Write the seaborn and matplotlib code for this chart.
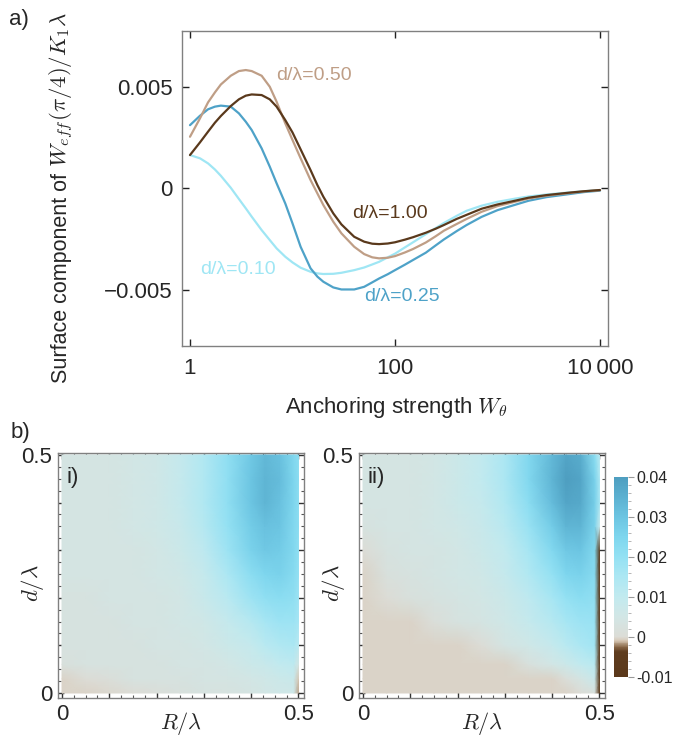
import numpy as np
import pandas as pd
import matplotlib
matplotlib.use("Agg")
import matplotlib.pyplot as plt
import seaborn as sns
from matplotlib.colors import LinearSegmentedColormap, Normalize
from matplotlib.ticker import FixedLocator, FixedFormatter, MultipleLocator

# ---------------- data: panel a ----------------
W = [1, 1.25, 1.5, 1.75, 2, 2.5, 3, 3.5, 4, 5, 6, 7, 8.5, 10, 12, 15, 17.5, 20, 25, 30,
     40, 50, 60, 70, 85, 100, 125, 150, 200, 250, 300, 400, 500, 700, 1000, 1500, 2000, 3000,
     5000, 7000, 10000]
w_d010 = [0.00164, 0.00148, 0.00123, 0.00093, 0.00062, 0.00003, -0.00052, -0.00098, -0.00139, -0.00205,
          -0.00254, -0.00295, -0.00336, -0.00364, -0.00390, -0.00410, -0.00418, -0.00421, -0.00420, -0.00415,
          -0.00402, -0.00389, -0.00374, -0.00361, -0.00339, -0.00321, -0.00290, -0.00265, -0.00225, -0.00195,
          -0.00170, -0.00135, -0.00110, -0.00085, -0.00066, -0.00050, -0.00040, -0.00030, -0.00020, -0.00014,
          -0.00008]
w_d025 = [0.00311, 0.00357, 0.00389, 0.00402, 0.00407, 0.00402, 0.00369, 0.00328, 0.00287, 0.00197,
          0.00107, 0.00025, -0.00074, -0.00172, -0.00287, -0.00393, -0.00434, -0.00459, -0.00487, -0.00497,
          -0.00497, -0.00484, -0.00462, -0.00443, -0.00422, -0.00402, -0.00375, -0.00352, -0.00316, -0.00280,
          -0.00251, -0.00210, -0.00180, -0.00140, -0.00107, -0.00080, -0.00061, -0.00043, -0.00028, -0.00018,
          -0.00011]
w_d050 = [0.00254, 0.00344, 0.00423, 0.00472, 0.00511, 0.00554, 0.00577, 0.00582, 0.00577, 0.00554,
          0.00500, 0.00426, 0.00320, 0.00238, 0.00148, 0.00041, -0.00025, -0.00082, -0.00164, -0.00221,
          -0.00287, -0.00323, -0.00339, -0.00344, -0.00341, -0.00333, -0.00315, -0.00298, -0.00266, -0.00235,
          -0.00208, -0.00175, -0.00150, -0.00115, -0.00087, -0.00065, -0.00050, -0.00036, -0.00023, -0.00015,
          -0.00009]
w_d100 = [0.00164, 0.00226, 0.00279, 0.00323, 0.00356, 0.00405, 0.00438, 0.00456, 0.00462, 0.00459,
          0.00438, 0.00402, 0.00336, 0.00275, 0.00192, 0.00090, 0.00016, -0.00041, -0.00123, -0.00177,
          -0.00238, -0.00262, -0.00272, -0.00274, -0.00271, -0.00265, -0.00252, -0.00240, -0.00218, -0.00198,
          -0.00180, -0.00150, -0.00130, -0.00100, -0.00079, -0.00060, -0.00046, -0.00033, -0.00021, -0.00014,
          -0.00008]
curve_labels = ["d/λ=0.10", "d/λ=0.25", "d/λ=0.50", "d/λ=1.00"]

# ---------------- data: panel b ----------------
R_grid = [0, 0.05, 0.1, 0.15, 0.2, 0.25, 0.3, 0.35, 0.4, 0.43, 0.46, 0.49, 0.5]
d_grid = [0, 0.03, 0.06, 0.1, 0.15, 0.2, 0.25, 0.3, 0.35, 0.4, 0.45, 0.5]
field_i = [
    [-0.0003, -0.0003, -0.0002, 0.000, 0.001, 0.002, 0.003, 0.003, 0.004, 0.005, 0.006, 0.006, -0.0015],
    [-0.0003, 0.000, 0.001, 0.003, 0.003, 0.003, 0.004, 0.004, 0.005, 0.006, 0.007, 0.008, -0.001],
    [0.002, 0.003, 0.003, 0.003, 0.003, 0.004, 0.004, 0.005, 0.007, 0.008, 0.010, 0.011, 0.004],
    [0.003, 0.003, 0.003, 0.003, 0.004, 0.004, 0.005, 0.007, 0.009, 0.012, 0.014, 0.015, 0.012],
    [0.003, 0.003, 0.003, 0.004, 0.004, 0.005, 0.006, 0.009, 0.013, 0.016, 0.018, 0.018, 0.016],
    [0.003, 0.003, 0.004, 0.004, 0.004, 0.005, 0.008, 0.012, 0.018, 0.021, 0.022, 0.021, 0.018],
    [0.004, 0.004, 0.004, 0.004, 0.005, 0.006, 0.009, 0.015, 0.022, 0.025, 0.026, 0.023, 0.020],
    [0.004, 0.004, 0.004, 0.004, 0.005, 0.007, 0.011, 0.018, 0.026, 0.029, 0.028, 0.024, 0.021],
    [0.004, 0.004, 0.004, 0.005, 0.006, 0.008, 0.013, 0.020, 0.028, 0.031, 0.030, 0.024, 0.022],
    [0.004, 0.004, 0.004, 0.005, 0.006, 0.009, 0.014, 0.021, 0.030, 0.034, 0.031, 0.025, 0.022],
    [0.004, 0.004, 0.004, 0.005, 0.006, 0.009, 0.014, 0.021, 0.030, 0.034, 0.032, 0.025, 0.022],
    [0.004, 0.004, 0.004, 0.005, 0.006, 0.009, 0.014, 0.021, 0.029, 0.033, 0.031, 0.024, 0.022],
]
T = -0.0003
field_ii = [
    [T, T, T, T, T, T, T, T, T, T, 0.000, 0.002, -0.010],
    [T, T, T, T, T, T, T, T, T, 0.001, 0.004, 0.008, -0.010],
    [T, T, T, T, T, T, T, 0.002, 0.005, 0.007, 0.010, 0.012, -0.010],
    [T, T, T, T, T, 0.000, 0.004, 0.006, 0.009, 0.012, 0.015, 0.017, -0.010],
    [T, T, T, 0.001, 0.003, 0.004, 0.006, 0.009, 0.013, 0.016, 0.018, 0.019, -0.010],
    [T, 0.000, 0.002, 0.003, 0.004, 0.005, 0.007, 0.011, 0.016, 0.020, 0.022, 0.021, -0.010],
    [T, 0.002, 0.003, 0.004, 0.005, 0.006, 0.009, 0.014, 0.020, 0.025, 0.026, 0.023, -0.010],
    [0.000, 0.003, 0.004, 0.004, 0.005, 0.007, 0.010, 0.016, 0.024, 0.029, 0.030, 0.024, -0.010],
    [0.003, 0.004, 0.004, 0.005, 0.006, 0.008, 0.012, 0.019, 0.028, 0.034, 0.034, 0.026, 0.008],
    [0.004, 0.004, 0.004, 0.005, 0.007, 0.009, 0.014, 0.022, 0.032, 0.038, 0.037, 0.027, 0.016],
    [0.004, 0.004, 0.004, 0.005, 0.007, 0.010, 0.015, 0.024, 0.034, 0.040, 0.038, 0.026, 0.015],
    [0.004, 0.004, 0.004, 0.005, 0.007, 0.010, 0.015, 0.024, 0.033, 0.038, 0.036, 0.022, 0.012],
]
cbar_ticks = [-0.01, 0, 0.01, 0.02, 0.03, 0.04]
cbar_ticklabels = ["-0.01", "0", "0.01", "0.02", "0.03", "0.04"]

# ---------------- style ----------------
sns.set_theme(style="ticks")
plt.rcParams["font.family"] = ["Liberation Sans", "DejaVu Sans"]
plt.rcParams["mathtext.fontset"] = "cm"
plt.rcParams["axes.unicode_minus"] = True

FS = 16
frame_col = "#808080"
cols = {"d/λ=0.10": "#9fe6f4", "d/λ=0.25": "#4ea2c8", "d/λ=0.50": "#bf9e86", "d/λ=1.00": "#5a391c"}

fig = plt.figure(figsize=(6.82, 7.36), dpi=100)

def frac(l, t, r, b):
    return [l / 682, 1 - b / 736, (r - l) / 682, (b - t) / 736]

# ---------------- panel a ----------------
ax = fig.add_axes(frac(182, 31, 608, 346))
df = pd.DataFrame({
    "W": W * 4,
    "val": w_d010 + w_d025 + w_d050 + w_d100,
    "curve": sum([[c] * len(W) for c in curve_labels], []),
})
sns.lineplot(data=df, x="W", y="val", hue="curve", palette=cols, linewidth=1.6,
             legend=False, ax=ax, sort=False)
ax.set_xscale("log")
ax.set_xlim(10 ** -0.078, 10 ** 4.078)
ax.set_ylim(-0.00775, 0.00774)
ax.xaxis.set_major_locator(FixedLocator([1, 100, 10000]))
ax.xaxis.set_major_formatter(FixedFormatter(["1", "100", "10\u2009000"]))
ax.xaxis.set_minor_locator(FixedLocator([]))
ax.yaxis.set_major_locator(FixedLocator([-0.005, 0, 0.005]))
ax.yaxis.set_major_formatter(FixedFormatter(["\u22120.005", "0", "0.005"]))
ax.tick_params(direction="in", length=5, width=1, labelsize=FS, top=True, right=True, color="#222222")
ax.tick_params(axis="y", pad=7)
ax.tick_params(axis="x", pad=9)
for s in ax.spines.values():
    s.set_color(frame_col)
    s.set_linewidth(1.0)
ax.set_xlabel("")
ax.set_ylabel("")
fig.text(397 / 682, 1 - 407 / 736, r"Anchoring strength $W_\theta$", ha="center", va="center", fontsize=FS)
fig.text(67 / 682, 1 - 383 / 736, "Surface component of", rotation=90, rotation_mode="anchor",
         ha="left", va="baseline", fontsize=15.5)
fig.text(67 / 682, 1 - 167 / 736, r"$W_{eff}(\pi/4)/K_1\lambda$", rotation=90, rotation_mode="anchor",
         ha="left", va="baseline", fontsize=16.5)
lab_pos = {"d/λ=0.50": (276, 76), "d/λ=1.00": (352, 213), "d/λ=0.10": (200, 270), "d/λ=0.25": (364, 297)}
for k, (px, py) in lab_pos.items():
    fig.text(px / 682, 1 - py / 736, k, color=cols[k], fontsize=14, ha="left", va="center")
fig.text(19 / 682, 1 - 20 / 736, "a)", fontsize=FS, ha="center", va="center")
fig.text(20 / 682, 1 - 432 / 736, "b)", fontsize=FS, ha="center", va="center")

# ---------------- panel b ----------------
cmap = LinearSegmentedColormap.from_list("brownblue", [
    (0.00, "#5a381a"), (0.124, "#5e3c1e"), (0.15, "#8a6848"), (0.18, "#d6c6b2"),
    (0.20, "#dcdcd6"), (0.30, "#d2e6e5"), (0.40, "#c2eaef"),
    (0.50, "#ace7f3"), (0.60, "#94e1f3"), (0.70, "#7ed6ee"), (0.80, "#6cc5e2"),
    (0.90, "#5cb1d1"), (1.00, "#4e9ec0")])
norm = Normalize(vmin=-0.01, vmax=0.04)

def heat(axh, field, tag):
    Rg, Dg = np.meshgrid(np.array(R_grid), np.array(d_grid))
    m = axh.pcolormesh(Rg, Dg, np.array(field), shading="gouraud", cmap=cmap, norm=norm, rasterized=True)
    axh.set_xlim(-0.0085, 0.5117)
    axh.set_ylim(-0.0105, 0.504)
    axh.set_facecolor("white")
    axh.xaxis.set_major_locator(FixedLocator([0, 0.1, 0.2, 0.3, 0.4, 0.5]))
    axh.yaxis.set_major_locator(FixedLocator([0, 0.1, 0.2, 0.3, 0.4, 0.5]))
    axh.xaxis.set_major_formatter(FixedFormatter(["0", "", "", "", "", "0.5"]))
    axh.yaxis.set_major_formatter(FixedFormatter(["0", "", "", "", "", "0.5"]))
    axh.xaxis.set_minor_locator(MultipleLocator(0.025))
    axh.yaxis.set_minor_locator(MultipleLocator(0.025))
    axh.tick_params(which="major", direction="in", length=4, width=1, labelsize=FS,
                    top=True, right=True, color="#333333", pad=4)
    axh.tick_params(which="minor", direction="in", length=2, width=0.8,
                    top=True, right=True, color="#555555")
    for s in axh.spines.values():
        s.set_color(frame_col)
        s.set_linewidth(1.0)
    axh.text(0.5, -0.105, r"$R/\lambda$", transform=axh.transAxes, fontsize=16,
             ha="center", va="center")
    axh.text(-0.102, 0.47, r"$d/\lambda$", transform=axh.transAxes, fontsize=16.5,
             ha="center", va="center", rotation=90)
    axh.text(0.035, 0.902, tag, transform=axh.transAxes, fontsize=FS, ha="left", va="center")
    return m

ax1 = fig.add_axes(frac(58, 453, 304, 698))
heat(ax1, field_i, "i)")
ax2 = fig.add_axes(frac(359, 453, 605, 698))
m = heat(ax2, field_ii, "ii)")

cax = fig.add_axes(frac(614, 477, 628, 677))
cb = fig.colorbar(m, cax=cax, ticks=cbar_ticks)
cb.ax.set_yticklabels(cbar_ticklabels)
cb.outline.set_visible(False)
cb.ax.yaxis.set_minor_locator(MultipleLocator(0.002))
cb.ax.tick_params(which="major", length=4, width=0.8, color="#999999", labelsize=11.5, pad=2)
cb.ax.tick_params(which="minor", length=2, width=0.6, color="#aaaaaa")

fig.savefig("out.png", dpi=100)
